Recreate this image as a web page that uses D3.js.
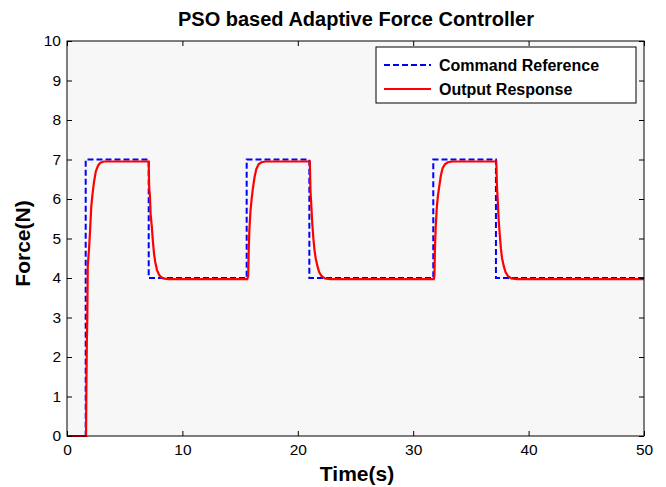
<!DOCTYPE html>
<html>
<head>
<meta charset="utf-8">
<script src="https://cdn.jsdelivr.net/npm/d3@7"></script>
<style>
  body { margin: 0; background: #fff; }
  text { font-family: "Liberation Sans", Arial, sans-serif; }
</style>
</head>
<body>
<script>
// Command reference (step times and levels)
const cmdT = [0, 1.62, 1.62, 7.08, 7.08, 15.57, 15.57, 21.0, 21.0, 31.74, 31.74, 37.17, 37.17, 50];
const cmdV = [0, 0, 7, 7, 4, 4, 7, 7, 4, 4, 7, 7, 4, 4];

// Output response
const outT = [0, 1.65, 1.68, 1.72, 1.76, 1.8, 1.85, 1.9, 2.0, 2.1, 2.2, 2.35, 2.5, 2.7, 2.9, 3.2, 3.6,
  7.08, 7.12, 7.18, 7.25, 7.35, 7.45, 7.55, 7.65, 7.8, 8.0, 8.3, 8.8,
  15.62, 15.7, 15.74, 15.8, 15.9, 16.0, 16.1, 16.25, 16.4, 16.6, 16.85, 17.2,
  21.04, 21.1, 21.16, 21.25, 21.35, 21.45, 21.55, 21.7, 21.85, 22.05, 22.35, 22.8,
  31.78, 31.84, 31.88, 31.95, 32.05, 32.15, 32.25, 32.4, 32.55, 32.75, 33.0, 33.4,
  37.2, 37.26, 37.32, 37.4, 37.5, 37.6, 37.7, 37.85, 38.0, 38.2, 38.5, 39.0, 50];
const outV = [0, 0, 1.2, 2.4, 3.0, 4.3, 4.5, 4.7, 5.2, 5.8, 6.1, 6.45, 6.7, 6.85, 6.92, 6.95, 6.95,
  6.95, 6.3, 6.1, 5.6, 5.3, 4.9, 4.6, 4.4, 4.2, 4.07, 3.99, 3.97,
  3.97, 4.05, 4.6, 5.2, 5.7, 6.0, 6.25, 6.55, 6.75, 6.88, 6.93, 6.95,
  6.95, 6.2, 5.9, 5.4, 5.0, 4.7, 4.5, 4.3, 4.15, 4.05, 3.99, 3.97,
  3.97, 4.05, 4.7, 5.3, 5.8, 6.1, 6.3, 6.6, 6.78, 6.88, 6.93, 6.95,
  6.95, 6.3, 6.0, 5.5, 5.1, 4.75, 4.5, 4.3, 4.15, 4.05, 3.99, 3.97, 3.97];

const xTicks = [0, 10, 20, 30, 40, 50];
const yTicks = [0, 1, 2, 3, 4, 5, 6, 7, 8, 9, 10];
const seriesNames = ["Command Reference", "Output Response"];

const width = 666, height = 487;
const margin = { left: 67, right: 22, top: 41, bottom: 51 };

const svg = d3.select("body").append("svg")
  .attr("width", width)
  .attr("height", height);

const x = d3.scaleLinear().domain([0, 50]).range([margin.left, width - margin.right]);
const y = d3.scaleLinear().domain([0, 10]).range([height - margin.bottom, margin.top]);

// plot background
svg.append("rect")
  .attr("x", x(0)).attr("y", y(10))
  .attr("width", x(50) - x(0)).attr("height", y(0) - y(10))
  .attr("fill", "#f7f7f7");

svg.append("clipPath").attr("id", "clip")
  .append("rect")
  .attr("x", x(0)).attr("y", y(10) - 2)
  .attr("width", x(50) - x(0)).attr("height", y(0) - y(10) + 4);

const line = d3.line().x(d => x(d[0])).y(d => y(d[1]));

const cmdData = cmdT.map((t, i) => [t, cmdV[i]]);
const outData = outT.map((t, i) => [t, outV[i]]);

const plot = svg.append("g").attr("clip-path", "url(#clip)");

plot.append("path")
  .datum(cmdData)
  .attr("d", line)
  .attr("fill", "none")
  .attr("stroke", "#0000ff")
  .attr("stroke-width", 2)
  .attr("stroke-dasharray", "6,3");

plot.append("path")
  .datum(outData)
  .attr("d", line)
  .attr("fill", "none")
  .attr("stroke", "#ff0000")
  .attr("stroke-width", 2.2);

// axes, ticks pointing inward, box
const axisStyle = g => {
  g.select(".domain").remove();
  g.selectAll("line").attr("stroke", "#000");
  g.selectAll("text").attr("font-size", 15.5).attr("fill", "#000");
};

svg.append("g")
  .attr("transform", `translate(0,${y(0)})`)
  .call(d3.axisBottom(x).tickValues(xTicks).tickSize(-5).tickPadding(8))
  .call(axisStyle);

svg.append("g")
  .attr("transform", `translate(0,${y(10)})`)
  .call(d3.axisTop(x).tickValues(xTicks).tickSize(-5).tickFormat(""))
  .call(axisStyle);

svg.append("g")
  .attr("transform", `translate(${x(0)},0)`)
  .call(d3.axisLeft(y).tickValues(yTicks).tickSize(-5).tickPadding(6))
  .call(axisStyle);

svg.append("g")
  .attr("transform", `translate(${x(50)},0)`)
  .call(d3.axisRight(y).tickValues(yTicks).tickSize(-5).tickFormat(""))
  .call(axisStyle);

svg.append("rect")
  .attr("x", x(0)).attr("y", y(10))
  .attr("width", x(50) - x(0)).attr("height", y(0) - y(10))
  .attr("fill", "none")
  .attr("stroke", "#000")
  .attr("stroke-width", 1);

// title and labels
svg.append("text")
  .attr("x", 356).attr("y", 26)
  .attr("text-anchor", "middle")
  .attr("font-size", 20).attr("font-weight", "bold")
  .text("PSO based Adaptive Force Controller");

svg.append("text")
  .attr("x", 357).attr("y", 481)
  .attr("text-anchor", "middle")
  .attr("font-size", 21).attr("font-weight", "bold")
  .text("Time(s)");

svg.append("text")
  .attr("transform", `translate(30,${(y(0) + y(10)) / 2 + 5}) rotate(-90)`)
  .attr("text-anchor", "middle")
  .attr("font-size", 21).attr("font-weight", "bold")
  .text("Force(N)");

// legend
const legend = svg.append("g").attr("transform", "translate(376,47)");
legend.append("rect")
  .attr("width", 260).attr("height", 56)
  .attr("fill", "#fff").attr("stroke", "#000");

const legColors = ["#0000ff", "#ff0000"];
const legDash = ["6,3", null];
seriesNames.forEach((name, i) => {
  const ly = 18 + i * 24;
  legend.append("line")
    .attr("x1", 8).attr("x2", 55)
    .attr("y1", ly).attr("y2", ly)
    .attr("stroke", legColors[i])
    .attr("stroke-width", 2)
    .attr("stroke-dasharray", legDash[i]);
  legend.append("text")
    .attr("x", 63).attr("y", ly + 6)
    .attr("font-size", 16).attr("font-weight", "bold")
    .text(name);
});
</script>
</body>
</html>
